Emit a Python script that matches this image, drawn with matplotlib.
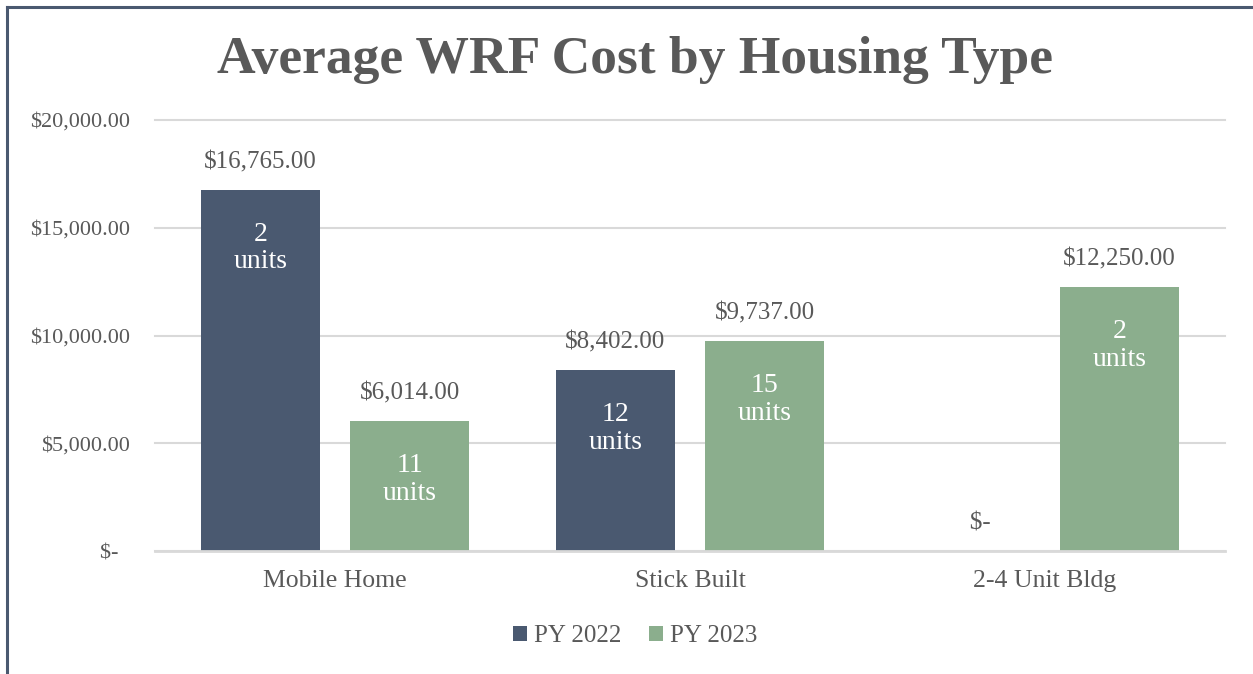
import matplotlib

matplotlib.use("Agg")

import matplotlib.pyplot as plt
import numpy as np
from matplotlib.lines import Line2D

categories = ["Mobile Home", "Stick Built", "2-4 Unit Bldg"]
series_names = ["PY 2022", "PY 2023"]
py2022 = [16765.00, 8402.00, 0.0]
py2023 = [6014.00, 9737.00, 12250.00]
units2022 = [2, 12, None]
units2023 = [11, 15, 2]
y_ticks = [0, 5000, 10000, 15000, 20000]

colors = ["#4A5970", "#8BAE8D"]
text_gray = "#595959"
grid_gray = "#D9D9D9"

plt.rcParams["font.family"] = ["Liberation Serif", "DejaVu Serif"]


def money(v):
    # accounting style: zero shows as a dash
    return "   $-" if v == 0 else f"${v:,.2f}"


fig = plt.figure(figsize=(12.53, 6.74), dpi=100)
ax = fig.add_axes([155 / 1253, 1 - 551 / 674, 1070 / 1253, 431 / 674])

x = np.arange(len(categories))
width = 0.335
offset = 0.21
for i, (vals, units) in enumerate([(py2022, units2022), (py2023, units2023)]):
    xs = x + (offset if i else -offset)
    ax.bar(xs, vals, width=width, color=colors[i], label=series_names[i], zorder=3)
    for xi, v, u in zip(xs, vals, units):
        ax.annotate(money(v), (xi, v), xytext=(0, 20), textcoords="offset points",
                    ha="center", va="center", fontsize=18, color=text_gray)
        if u is not None:
            ax.annotate(f"{u}\nunits", (xi, v), xytext=(0, -42), textcoords="offset points",
                        ha="center", va="center", fontsize=20, color="white",
                        linespacing=1.15, zorder=4)

ax.set_xlim(-0.507, 2.507)
ax.set_ylim(0, 20000)
ax.set_yticks(y_ticks)
ax.set_yticklabels([f"${v:,.2f}" if v else "$-  " for v in y_ticks])
ax.set_xticks(x)
ax.set_xticklabels(categories)
ax.tick_params(axis="y", length=0, pad=18, labelsize=16, labelcolor=text_gray)
ax.tick_params(axis="x", length=0, pad=14, labelsize=18.5, labelcolor=text_gray)
ax.grid(axis="y", color=grid_gray, linewidth=1.5, zorder=0, clip_on=False)
for side in ["top", "right", "left"]:
    ax.spines[side].set_visible(False)
ax.spines["bottom"].set_color(grid_gray)
ax.spines["bottom"].set_linewidth(2)
ax.spines["bottom"].set_zorder(5)

fig.text(0.5065, 1 - 60 / 674, "Average WRF Cost by Housing Type", ha="center", va="center",
         fontsize=38.5, fontweight="bold", color=text_gray)

fig.legend(loc="center", bbox_to_anchor=(0.507, 1 - 636 / 674), ncol=2, frameon=False,
           fontsize=18, labelcolor=text_gray, handlelength=0.55, handleheight=0.55,
           handletextpad=0.3, columnspacing=1.1)

# chart border (left and top only)
fig.add_artist(Line2D([7 / 1253, 7 / 1253], [0, 1 - 7 / 674], color="#4A5970", linewidth=2.2))
fig.add_artist(Line2D([7 / 1253, 1], [1 - 7 / 674, 1 - 7 / 674], color="#4A5970", linewidth=2.2))

fig.savefig("out.png", dpi=100)
